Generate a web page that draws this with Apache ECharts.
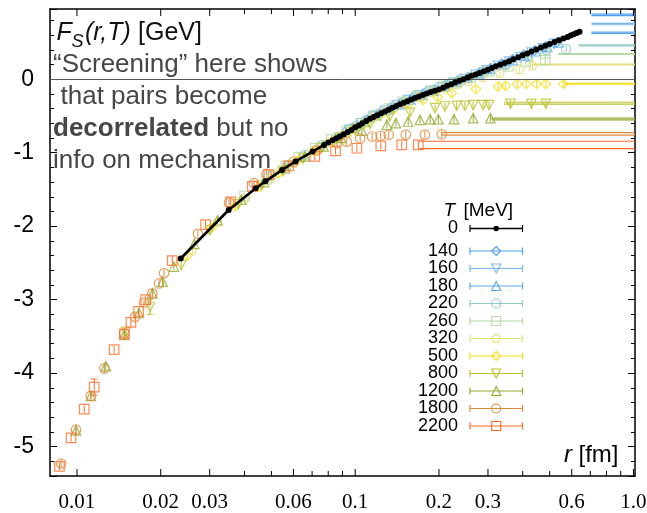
<!DOCTYPE html>
<html>
<head>
<meta charset="utf-8">
<title>F_S(r,T)</title>
<script src="https://cdn.jsdelivr.net/npm/echarts@6.0.0/dist/echarts.min.js"></script>
<style>
html, body { margin: 0; padding: 0; background: #fff; }
#chart { width: 647px; height: 513px; }
</style>
</head>
<body>
<div id="chart"></div>
<script>
//温度 T [MeV]
var temps = ['0', '140', '160', '180', '220', '260', '320', '500', '800', '1200', '1800', '2200'];
//颜色
var colors = ['#000000', '#4f9ff0', '#74b7f2', '#5aa8ec', '#8fcaca', '#b3dba3', '#e6df7c',
    '#f7df1e', '#bcc22f', '#92aa33', '#de8a3c', '#fd6b2b'];
//符号
var symbols = ['dot', 'diamond', 'triangleDown', 'triangle', 'circle', 'rect', 'pentagon',
    'diamond', 'triangleDown', 'triangle', 'circle', 'rect'];

//T=0 [r fm, F GeV]
var fsT0 = [[0.0236, -2.44], [0.0351, -1.78], [0.0439, -1.485], [0.0476, -1.39], [0.0546, -1.235],
    [0.0610, -1.12], [0.0703, -0.985], [0.0773, -0.895], [0.0800, -0.86], [0.0830, -0.83],
    [0.0855, -0.805], [0.0880, -0.78], [0.0910, -0.75], [0.0940, -0.72], [0.0970, -0.69],
    [0.1000, -0.655], [0.1030, -0.63], [0.1060, -0.60], [0.1095, -0.57], [0.1130, -0.54],
    [0.1165, -0.515], [0.1200, -0.49], [0.1240, -0.465], [0.1280, -0.44], [0.1320, -0.415],
    [0.1360, -0.39], [0.1405, -0.365], [0.1450, -0.34], [0.1495, -0.32], [0.1540, -0.30],
    [0.1590, -0.278], [0.1640, -0.255], [0.1695, -0.235], [0.1750, -0.215], [0.1810, -0.195],
    [0.1870, -0.175], [0.1935, -0.158], [0.2000, -0.14], [0.2070, -0.115], [0.2140, -0.09],
    [0.2215, -0.068], [0.2290, -0.045], [0.2370, -0.022], [0.2450, 0.0], [0.2535, 0.022],
    [0.2620, 0.045], [0.2710, 0.065], [0.2800, 0.085], [0.2900, 0.108], [0.3000, 0.13],
    [0.3100, 0.153], [0.3200, 0.175], [0.3325, 0.198], [0.3450, 0.22], [0.3575, 0.245],
    [0.3700, 0.27], [0.3850, 0.298], [0.4000, 0.325], [0.4150, 0.35], [0.4300, 0.375],
    [0.4475, 0.403], [0.4650, 0.43], [0.4825, 0.455], [0.5000, 0.48], [0.5200, 0.505],
    [0.5400, 0.53], [0.5600, 0.553], [0.5800, 0.575], [0.5950, 0.593], [0.6100, 0.61],
    [0.6250, 0.628], [0.6400, 0.645]];
//[r, F, 误差]
var fsT140 = [[0.092, -0.72, 0.03], [0.101, -0.63, 0.03], [0.111, -0.55, 0.03], [0.122, -0.47, 0.03],
    [0.134, -0.39, 0.03], [0.147, -0.32, 0.03], [0.161, -0.25, 0.03], [0.177, -0.19, 0.03],
    [0.194, -0.14, 0.03], [0.213, -0.08, 0.03], [0.233, -0.02, 0.03], [0.256, 0.03, 0.03],
    [0.280, 0.09, 0.03], [0.307, 0.15, 0.03], [0.336, 0.21, 0.03], [0.368, 0.27, 0.03],
    [0.403, 0.33, 0.03], [0.441, 0.39, 0.03], [0.483, 0.445, 0.03], [0.529, 0.50, 0.03]];
var fsT160 = [[0.095, -0.69, 0.03], [0.105, -0.60, 0.03], [0.116, -0.51, 0.03], [0.128, -0.43, 0.03],
    [0.141, -0.355, 0.03], [0.155, -0.285, 0.03], [0.170, -0.225, 0.03], [0.187, -0.165, 0.03],
    [0.205, -0.11, 0.03], [0.225, -0.05, 0.03], [0.247, 0.0, 0.03], [0.271, 0.06, 0.03],
    [0.297, 0.12, 0.03], [0.326, 0.18, 0.03], [0.357, 0.24, 0.03], [0.392, 0.30, 0.03],
    [0.430, 0.36, 0.03], [0.472, 0.42, 0.03], [0.518, 0.48, 0.03]];
var fsT180 = [[0.098, -0.66, 0.03], [0.108, -0.575, 0.03], [0.119, -0.49, 0.03], [0.131, -0.41, 0.03],
    [0.144, -0.34, 0.03], [0.158, -0.275, 0.03], [0.174, -0.21, 0.03], [0.191, -0.155, 0.03],
    [0.210, -0.095, 0.03], [0.231, -0.035, 0.03], [0.254, 0.02, 0.03], [0.279, 0.08, 0.03],
    [0.306, 0.14, 0.03], [0.336, 0.20, 0.03], [0.369, 0.26, 0.03], [0.405, 0.32, 0.03],
    [0.445, 0.38, 0.03], [0.490, 0.44, 0.03], [0.538, 0.50, 0.03]];
var fsT220 = [[0.050, -1.31, 0.05], [0.057, -1.17, 0.05], [0.066, -1.03, 0.05], [0.076, -0.90, 0.05],
    [0.086, -0.79, 0.05], [0.097, -0.67, 0.05], [0.109, -0.565, 0.05], [0.122, -0.47, 0.05],
    [0.137, -0.375, 0.05], [0.153, -0.29, 0.05], [0.171, -0.215, 0.05], [0.191, -0.15, 0.05],
    [0.213, -0.085, 0.05], [0.238, -0.02, 0.05], [0.288, 0.10, 0.05], [0.351, 0.21, 0.05],
    [0.418, 0.30, 0.05], [0.485, 0.40, 0.05], [0.573, 0.41, 0.05]];
var fsT260 = [[0.040, -1.59, 0.05], [0.048, -1.36, 0.05], [0.0563, -1.18, 0.05], [0.0627, -1.06, 0.05],
    [0.072, -0.94, 0.05], [0.082, -0.82, 0.05], [0.093, -0.71, 0.05], [0.105, -0.60, 0.05],
    [0.118, -0.49, 0.05], [0.132, -0.40, 0.05], [0.148, -0.31, 0.05], [0.166, -0.235, 0.05],
    [0.186, -0.16, 0.05], [0.208, -0.10, 0.05], [0.232, -0.04, 0.05], [0.260, 0.02, 0.05],
    [0.301, 0.105, 0.05], [0.355, 0.173, 0.05], [0.410, 0.241, 0.05], [0.482, 0.26, 0.05],
    [0.482, 0.35, 0.05]];
var fsT320 = [[0.026, -2.32, 0.05], [0.032, -1.94, 0.05], [0.040, -1.62, 0.05], [0.050, -1.34, 0.05],
    [0.060, -1.14, 0.05], [0.070, -0.985, 0.05], [0.080, -0.86, 0.05], [0.090, -0.755, 0.05],
    [0.100, -0.655, 0.05], [0.115, -0.53, 0.05], [0.130, -0.43, 0.05], [0.150, -0.32, 0.05],
    [0.170, -0.235, 0.05], [0.190, -0.17, 0.05], [0.210, -0.115, 0.05], [0.232, -0.065, 0.05],
    [0.255, -0.02, 0.05], [0.287, 0.03, 0.05], [0.331, 0.09, 0.05], [0.390, 0.137, 0.05],
    [0.434, 0.19, 0.05]];
var fsT500 = [[0.0250, -2.40, 0.06], [0.0305, -2.02, 0.05], [0.0370, -1.73, 0.05], [0.0450, -1.47, 0.05],
    [0.0530, -1.28, 0.05], [0.0620, -1.11, 0.05], [0.0720, -0.97, 0.05], [0.0830, -0.845, 0.05],
    [0.0950, -0.72, 0.05], [0.108, -0.61, 0.05], [0.122, -0.50, 0.05], [0.138, -0.41, 0.05],
    [0.155, -0.34, 0.05], [0.175, -0.285, 0.05], [0.198, -0.246, 0.05], [0.2225, -0.19, 0.05],
    [0.2716, -0.135, 0.05], [0.3266, -0.10, 0.05], [0.3475, -0.09, 0.05], [0.382, -0.067, 0.05],
    [0.412, -0.063, 0.05], [0.448, -0.063, 0.05], [0.484, -0.063, 0.05], [0.561, -0.063, 0.05]];
var fsT800 = [[0.0150, -3.44, 0.06], [0.0183, -3.10, 0.10], [0.0237, -2.53, 0.06], [0.0300, -2.06, 0.05],
    [0.0380, -1.70, 0.05], [0.0460, -1.45, 0.05], [0.0550, -1.25, 0.05], [0.0650, -1.08, 0.05],
    [0.0760, -0.935, 0.05], [0.0880, -0.80, 0.05], [0.100, -0.695, 0.05], [0.113, -0.61, 0.05],
    [0.133, -0.508, 0.05], [0.1573, -0.454, 0.05], [0.1937, -0.394, 0.05], [0.2103, -0.372, 0.05],
    [0.2317, -0.362, 0.05], [0.248, -0.362, 0.05], [0.2655, -0.353, 0.05], [0.2884, -0.353, 0.05],
    [0.3028, -0.353, 0.05], [0.3614, -0.335, 0.05], [0.4298, -0.335, 0.05], [0.484, -0.335, 0.05]];
var fsT1200 = [[0.00992, -4.78, 0.05], [0.01122, -4.31, 0.05], [0.0127, -3.905, 0.06], [0.0148, -3.48, 0.05],
    [0.0167, -3.18, 0.05], [0.01866, -2.915, 0.05], [0.0203, -2.755, 0.05], [0.0223, -2.55, 0.05],
    [0.0264, -2.24, 0.05], [0.032, -1.92, 0.05], [0.039, -1.64, 0.05], [0.047, -1.40, 0.05],
    [0.056, -1.21, 0.05], [0.066, -1.05, 0.05], [0.077, -0.915, 0.05], [0.089, -0.80, 0.05],
    [0.1057, -0.70, 0.05], [0.130, -0.62, 0.05], [0.140, -0.598, 0.05], [0.155, -0.576, 0.05],
    [0.171, -0.553, 0.05], [0.186, -0.544, 0.05], [0.199, -0.544, 0.05], [0.2265, -0.544, 0.05],
    [0.2655, -0.53, 0.05], [0.306, -0.53, 0.05]];
var fsT1800 = [[0.00877, -5.23, 0.06], [0.00992, -4.77, 0.05], [0.01122, -4.31, 0.05], [0.01254, -3.935, 0.06],
    [0.0148, -3.46, 0.06], [0.01618, -3.235, 0.05], [0.01742, -3.04, 0.05], [0.01866, -2.915, 0.05],
    [0.01972, -2.78, 0.05], [0.02056, -2.64, 0.05], [0.0272, -2.105, 0.05], [0.0352, -1.68, 0.06],
    [0.0433, -1.415, 0.05], [0.0480, -1.29, 0.05], [0.0601, -1.12, 0.05], [0.0725, -0.97, 0.05],
    [0.0860, -0.87, 0.05], [0.0932, -0.85, 0.05], [0.1042, -0.805, 0.05], [0.115, -0.78, 0.05],
    [0.1235, -0.77, 0.05], [0.132, -0.757, 0.05], [0.152, -0.755, 0.05], [0.178, -0.755, 0.05],
    [0.2046, -0.75, 0.05]];
var fsT2200 = [[0.00865, -5.27, 0.05], [0.00952, -4.88, 0.05], [0.01062, -4.49, 0.05], [0.01153, -4.19, 0.11],
    [0.0136, -3.68, 0.05], [0.0148, -3.47, 0.06], [0.01563, -3.31, 0.05], [0.01665, -3.16, 0.05],
    [0.01767, -3.00, 0.05], [0.0220, -2.47, 0.06], [0.0290, -1.98, 0.06], [0.0357, -1.67, 0.05],
    [0.0427, -1.46, 0.05], [0.0489, -1.30, 0.05], [0.0577, -1.18, 0.05], [0.0716, -1.05, 0.05],
    [0.0850, -0.975, 0.05], [0.1014, -0.94, 0.05], [0.1236, -0.907, 0.05], [0.147, -0.895, 0.05],
    [0.1686, -0.895, 0.05]];
var seriesData = [fsT0, fsT140, fsT160, fsT180, fsT220, fsT260, fsT320, fsT500, fsT800, fsT1200, fsT1800, fsT2200];

//大r渐近线 (T=140..2200): 起点r, 下沿, 上沿
var asymStart = [0.706, 0.706, 0.706, 0.635, 0.536, 0.434, 0.561, 0.343, 0.309, 0.2046, 0.1686];
var asymLo = [0.866, 0.741, 0.622, 0.454, 0.338, 0.195, -0.068, -0.340, -0.553, -0.762, -0.944];
var asymHi = [0.886, 0.760, 0.641, 0.466, 0.347, 0.206, -0.058, -0.314, -0.530, -0.726, -0.845];

//坐标轴
var xMin = 0.008, xMax = 1.013;
var yMin = -5.4, yMax = 0.955;
var xTickVals = [0.01, 0.02, 0.03, 0.04, 0.05, 0.06, 0.07, 0.08, 0.09,
    0.1, 0.2, 0.3, 0.4, 0.5, 0.6, 0.7, 0.8, 0.9, 1.0];
var xLabelVals = [0.01, 0.02, 0.03, 0.06, 0.1, 0.2, 0.3, 0.6, 1.0];
var xLabelText = ['0.01', '0.02', '0.03', '0.06', '0.1', '0.2', '0.3', '0.6', '1.0'];

//文字
var noteLines = ['\u201cScreening\u201d here shows', 'that pairs become', '{b|decorrelated} but no', 'info on mechanism'];

var sansFont = '"Liberation Sans", Arial, Helvetica, sans-serif';
var serifFont = '"Liberation Serif", "Times New Roman", serif';
var noteColor = '#464646';

var chart = echarts.init(document.getElementById('chart'));

//符号 -> echarts symbol
function echartsSymbol(kind) {
    if (kind === 'triangleDown') {
        return 'triangle';
    }
    if (kind === 'pentagon') {
        return 'path://M0,-1L0.951,-0.309L0.588,0.809L-0.588,0.809L-0.951,-0.309Z';
    }
    return kind;
}

//图例用的符号图形
function legendMarker(kind, cx, cy, s, color) {
    var h = s / 2,
        style = { fill: 'none', stroke: color, lineWidth: 1.1 },
        pts;
    if (kind === 'dot') {
        return { type: 'circle', z: 100, shape: { cx: cx, cy: cy, r: 2.8 }, style: { fill: color } };
    }
    if (kind === 'circle') {
        return { type: 'circle', z: 100, shape: { cx: cx, cy: cy, r: h }, style: style };
    }
    if (kind === 'rect') {
        return { type: 'rect', z: 100, shape: { x: cx - h, y: cy - h, width: s, height: s }, style: style };
    }
    if (kind === 'diamond') {
        pts = [[cx, cy - h], [cx + h, cy], [cx, cy + h], [cx - h, cy]];
    } else if (kind === 'triangle') {
        pts = [[cx, cy - h], [cx + h, cy + h], [cx - h, cy + h]];
    } else if (kind === 'triangleDown') {
        pts = [[cx - h, cy - h], [cx + h, cy - h], [cx, cy + h]];
    } else {
        pts = [[cx, cy - h], [cx + 0.95 * h, cy - 0.31 * h], [cx + 0.59 * h, cy + 0.81 * h],
            [cx - 0.59 * h, cy + 0.81 * h], [cx - 0.95 * h, cy - 0.31 * h]];
    }
    return { type: 'polygon', z: 100, shape: { points: pts }, style: style };
}

//误差棒
function errRender(color) {
    return function (params, api) {
        var r = api.value(0),
            f = api.value(1),
            e = api.value(2),
            top = api.coord([r, f + e]),
            bot = api.coord([r, f - e]),
            line = { stroke: color, lineWidth: 1 },
            children = [{ type: 'line', shape: { x1: top[0], y1: top[1], x2: bot[0], y2: bot[1] }, style: line }];
        if (bot[1] - top[1] > 11) {
            children.push({ type: 'line', shape: { x1: top[0] - 3, y1: top[1], x2: top[0] + 3, y2: top[1] }, style: line });
            children.push({ type: 'line', shape: { x1: bot[0] - 3, y1: bot[1], x2: bot[0] + 3, y2: bot[1] }, style: line });
        }
        return { type: 'group', children: children };
    };
}

//渐近线
function asymRender(params, api) {
    var color = colors[api.value(3)],
        a0 = api.coord([api.value(0), api.value(1)]),
        a1 = api.coord([xMax, api.value(1)]),
        b0 = api.coord([api.value(0), api.value(2)]),
        b1 = api.coord([xMax, api.value(2)]);
    return {
        type: 'group',
        children: [
            { type: 'line', shape: { x1: a0[0], y1: a0[1], x2: a1[0], y2: a1[1] }, style: { stroke: color, lineWidth: 1.2 } },
            { type: 'line', shape: { x1: b0[0], y1: b0[1], x2: b1[0], y2: b1[1] }, style: { stroke: color, lineWidth: 1.2 } }
        ]
    };
}

//x轴刻度(上下)
function xTickRender(params, api) {
    var v = api.value(0),
        lo = api.coord([v, yMin]),
        hi = api.coord([v, yMax]),
        len = api.value(2) ? 7 : 5,
        line = { stroke: '#000', lineWidth: 1 };
    return {
        type: 'group',
        children: [
            { type: 'line', shape: { x1: lo[0], y1: lo[1], x2: lo[0], y2: lo[1] - len }, style: line },
            { type: 'line', shape: { x1: hi[0], y1: hi[1], x2: hi[0], y2: hi[1] + len }, style: line }
        ]
    };
}

//x轴标签
function xLabelRender(params, api) {
    var p = api.coord([api.value(0), yMin]);
    return {
        type: 'text',
        x: p[0],
        y: p[1] + 26,
        style: {
            text: xLabelText[params.dataIndex],
            fontSize: 21,
            fontFamily: serifFont,
            fill: '#000',
            align: 'center',
            verticalAlign: 'middle'
        }
    };
}

var series = [];
var i;

//渐近线
series.push({
    type: 'custom',
    silent: true,
    z: 2,
    data: asymStart.map(function (s, k) {
        return [s, asymLo[k], asymHi[k], k + 1];
    }),
    renderItem: asymRender
});

//各温度数据
for (i = 1; i < temps.length; i++) {
    series.push({
        type: 'custom',
        silent: true,
        z: 3,
        data: seriesData[i],
        renderItem: errRender(colors[i])
    });
    series.push({
        type: 'scatter',
        name: temps[i],
        silent: true,
        z: 4,
        data: seriesData[i],
        symbol: echartsSymbol(symbols[i]),
        symbolRotate: symbols[i] === 'triangleDown' ? 180 : 0,
        symbolSize: symbols[i] === 'pentagon' ? 9 : 9.5,
        itemStyle: {
            color: 'rgba(0,0,0,0)',
            borderColor: colors[i],
            borderWidth: 1.2
        },
        markLine: i === 1 ? {
            silent: true,
            symbol: ['none', 'none'],
            label: { show: false },
            lineStyle: { color: '#555', width: 1, type: 'solid' },
            data: [{ yAxis: 0 }]
        } : undefined
    });
}

//T=0
series.push({
    type: 'line',
    name: temps[0],
    silent: true,
    z: 10,
    data: fsT0,
    symbol: 'circle',
    symbolSize: 6,
    showSymbol: true,
    itemStyle: { color: '#000' },
    lineStyle: { color: '#000', width: 2.6 }
});

//刻度与标签
series.push({
    type: 'custom',
    silent: true,
    z: 11,
    data: xTickVals.map(function (v) {
        return [v, yMin, xLabelVals.indexOf(v) >= 0 ? 1 : 0];
    }),
    renderItem: xTickRender
});
series.push({
    type: 'custom',
    silent: true,
    z: 11,
    data: xLabelVals.map(function (v) {
        return [v, yMin];
    }),
    renderItem: xLabelRender
});

//图例和文字
function buildGraphic() {
    var els = [],
        y, k;
    //标题
    els.push({ type: 'text', z: 100, x: 56.5, y: 33, style: { text: 'F', fontStyle: 'italic', fontSize: 25, fontFamily: sansFont, fill: '#111', verticalAlign: 'middle' } });
    els.push({ type: 'text', z: 100, x: 71.5, y: 41.5, style: { text: 'S', fontStyle: 'italic', fontSize: 18, fontFamily: sansFont, fill: '#111', verticalAlign: 'middle' } });
    els.push({ type: 'text', z: 100, x: 85, y: 33, style: { text: '(r,T)', fontStyle: 'italic', fontSize: 25, fontFamily: sansFont, fill: '#111', verticalAlign: 'middle' } });
    els.push({ type: 'text', z: 100, x: 138, y: 33, style: { text: '[GeV]', fontSize: 25, fontFamily: sansFont, fill: '#111', verticalAlign: 'middle' } });
    //说明
    for (k = 0; k < noteLines.length; k++) {
        els.push({
            type: 'text',
            z: 100,
            x: k === 1 ? 60.5 : 53,
            y: 65 + k * 32,
            style: {
                text: noteLines[k],
                fontSize: 26,
                fontFamily: sansFont,
                fill: noteColor,
                verticalAlign: 'middle',
                rich: {
                    b: { fontSize: 26, fontFamily: sansFont, fontWeight: 'bold', fill: noteColor }
                }
            }
        });
    }
    //r [fm]
    els.push({ type: 'text', z: 100, x: 564, y: 455, style: { text: 'r', fontStyle: 'italic', fontSize: 24, fontFamily: sansFont, fill: '#000', verticalAlign: 'middle' } });
    els.push({ type: 'text', z: 100, x: 578.5, y: 455, style: { text: '[fm]', fontSize: 24, fontFamily: sansFont, fill: '#000', verticalAlign: 'middle' } });
    //图例标题
    els.push({ type: 'text', z: 100, x: 443.5, y: 210.5, style: { text: 'T', fontStyle: 'italic', fontSize: 19, fontFamily: sansFont, fill: '#000', verticalAlign: 'middle' } });
    els.push({ type: 'text', z: 100, x: 463.5, y: 210.5, style: { text: '[MeV]', fontSize: 19, fontFamily: sansFont, fill: '#000', verticalAlign: 'middle' } });
    //图例项
    for (k = 0; k < temps.length; k++) {
        y = k === 0 ? 228.5 : 251 + (k - 1) * 17.5;
        els.push({ type: 'text', z: 100, x: 458, y: y, style: { text: temps[k], fontSize: 18, fontFamily: sansFont, fill: '#000', align: 'right', verticalAlign: 'middle' } });
        els.push({ type: 'line', z: 100, shape: { x1: 470, y1: y, x2: 522.5, y2: y }, style: { stroke: colors[k], lineWidth: k === 0 ? 1.5 : 1.2 } });
        els.push({ type: 'line', z: 100, shape: { x1: 470, y1: y - 3.5, x2: 470, y2: y + 3.5 }, style: { stroke: colors[k], lineWidth: 1.2 } });
        els.push({ type: 'line', z: 100, shape: { x1: 522.5, y1: y - 3.5, x2: 522.5, y2: y + 3.5 }, style: { stroke: colors[k], lineWidth: 1.2 } });
        els.push(legendMarker(symbols[k], 496.2, y, 9, colors[k]));
    }
    return els;
}

var frameLine = { show: true, onZero: false, lineStyle: { color: '#000', width: 1.5 } };

var option = {
    animation: false,
    backgroundColor: '#fff',
    grid: { left: 50, right: 12, top: 9, bottom: 37, containLabel: false, outerBoundsMode: 'none' },
    xAxis: [{
        type: 'log',
        logBase: 10,
        min: xMin,
        max: xMax,
        axisLine: frameLine,
        axisTick: { show: false },
        axisLabel: { show: false },
        splitLine: { show: false },
        minorTick: { show: false }
    }, {
        type: 'log',
        logBase: 10,
        position: 'top',
        min: xMin,
        max: xMax,
        axisLine: frameLine,
        axisTick: { show: false },
        axisLabel: { show: false },
        splitLine: { show: false }
    }],
    yAxis: [{
        type: 'value',
        min: yMin,
        max: yMax,
        splitNumber: 6,
        axisLine: frameLine,
        axisTick: { inside: true, length: 7, lineStyle: { color: '#000', width: 1 } },
        minorTick: { show: true, splitNumber: 5, length: 4, lineStyle: { color: '#000', width: 1 } },
        axisLabel: {
            color: '#000',
            fontSize: 23,
            fontFamily: sansFont,
            margin: 16,
            showMinLabel: false,
            showMaxLabel: false
        },
        splitLine: { show: false }
    }, {
        type: 'value',
        position: 'right',
        min: yMin,
        max: yMax,
        splitNumber: 6,
        axisLine: frameLine,
        axisTick: { inside: true, length: 7, lineStyle: { color: '#000', width: 1 } },
        minorTick: { show: true, splitNumber: 5, length: 4, lineStyle: { color: '#000', width: 1 } },
        axisLabel: { show: false },
        splitLine: { show: false }
    }],
    graphic: buildGraphic(),
    series: series
};

chart.setOption(option);
</script>
</body>
</html>
